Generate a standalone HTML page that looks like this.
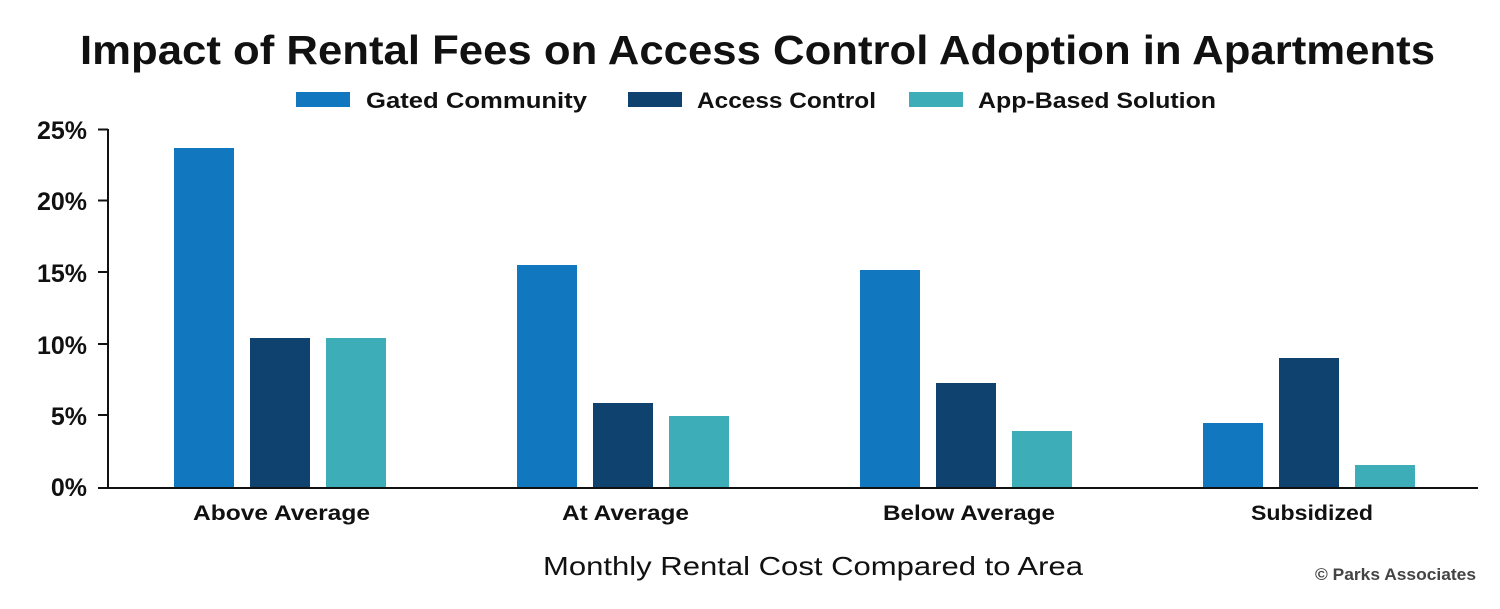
<!DOCTYPE html>
<html><head><meta charset="utf-8"><style>
html,body{margin:0;padding:0;background:#fff;}
svg{display:block;font-family:"Liberation Sans",sans-serif;}
</style></head><body>
<svg width="1500" height="609" viewBox="0 0 1500 609">
<text x="80" y="64" font-size="41" font-weight="bold" fill="#111" textLength="1355" lengthAdjust="spacingAndGlyphs">Impact of Rental Fees on Access Control Adoption in Apartments</text>
<rect x="296" y="92" width="54" height="15" fill="#1177be"/>
<text x="366" y="108" font-size="22" font-weight="bold" fill="#111" textLength="221" lengthAdjust="spacingAndGlyphs">Gated Community</text>
<rect x="628" y="92" width="54" height="15" fill="#0f426e"/>
<text x="697" y="108" font-size="22" font-weight="bold" fill="#111" textLength="179" lengthAdjust="spacingAndGlyphs">Access Control</text>
<rect x="909" y="92" width="54" height="15" fill="#3daeb8"/>
<text x="978" y="108" font-size="22" font-weight="bold" fill="#111" textLength="238" lengthAdjust="spacingAndGlyphs">App-Based Solution</text>
<g font-size="25" font-weight="bold" fill="#111" text-anchor="end">
<text x="87" y="139">25%</text>
<text x="87" y="210">20%</text>
<text x="87" y="282">15%</text>
<text x="87" y="354">10%</text>
<text x="87" y="425">5%</text>
<text x="87" y="496">0%</text>
</g>
<g stroke="#111" stroke-width="2">
<line x1="108" y1="129" x2="108" y2="488"/>
<line x1="98" y1="488" x2="1478" y2="488"/>
<line x1="98" y1="129.5" x2="108" y2="129.5"/>
<line x1="98" y1="200.5" x2="108" y2="200.5"/>
<line x1="98" y1="272" x2="108" y2="272"/>
<line x1="98" y1="344" x2="108" y2="344"/>
<line x1="98" y1="415" x2="108" y2="415"/>
</g>
<g>
<rect x="174" y="148" width="60" height="339" fill="#1177be"/>
<rect x="250" y="338" width="60" height="149" fill="#0f426e"/>
<rect x="326" y="338" width="60" height="149" fill="#3daeb8"/>
<rect x="517" y="265" width="60" height="222" fill="#1177be"/>
<rect x="593" y="403" width="60" height="84" fill="#0f426e"/>
<rect x="669" y="416" width="60" height="71" fill="#3daeb8"/>
<rect x="860" y="270" width="60" height="217" fill="#1177be"/>
<rect x="936" y="383" width="60" height="104" fill="#0f426e"/>
<rect x="1012" y="431" width="60" height="56" fill="#3daeb8"/>
<rect x="1203" y="423" width="60" height="64" fill="#1177be"/>
<rect x="1279" y="358" width="60" height="129" fill="#0f426e"/>
<rect x="1355" y="465" width="60" height="22" fill="#3daeb8"/>
</g>
<g font-size="21" font-weight="bold" fill="#111">
<text x="193" y="520" textLength="177" lengthAdjust="spacingAndGlyphs">Above Average</text>
<text x="562" y="520" textLength="127" lengthAdjust="spacingAndGlyphs">At Average</text>
<text x="883" y="520" textLength="172" lengthAdjust="spacingAndGlyphs">Below Average</text>
<text x="1251" y="520" textLength="122" lengthAdjust="spacingAndGlyphs">Subsidized</text>
</g>
<text x="543" y="575" font-size="26" fill="#111" textLength="540" lengthAdjust="spacingAndGlyphs">Monthly Rental Cost Compared to Area</text>
<text x="1315" y="580" font-size="17" font-weight="bold" fill="#444" textLength="161" lengthAdjust="spacingAndGlyphs">© Parks Associates</text>
</svg>
</body></html>
